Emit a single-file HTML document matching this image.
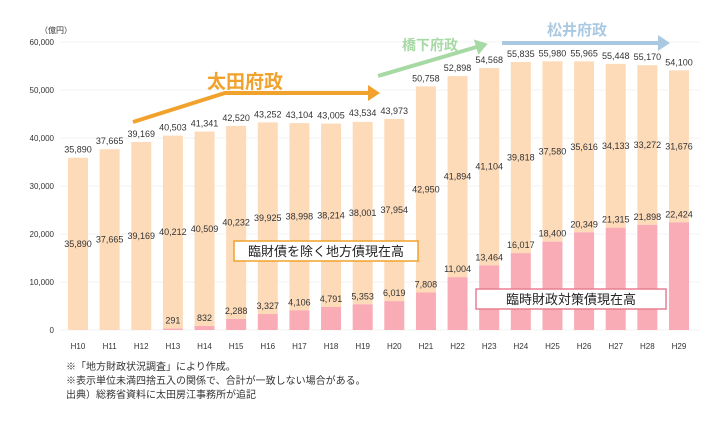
<!DOCTYPE html>
<html><head><meta charset="utf-8"><style>
body{margin:0;background:#fff;width:720px;height:426px;overflow:hidden;font-family:"Liberation Sans","Noto Sans CJK JP",sans-serif}
svg text{font-family:"Liberation Sans","Noto Sans CJK JP",sans-serif}
.note{position:absolute;left:66px;font-size:10px;color:#333;line-height:14px}
</style></head><body>
<svg id="chart" width="720" height="426" style="position:absolute;left:0;top:0"></svg>
<div class="note" style="top:361px">※「地方財政状況調査」により作成。<br>※表示単位未満四捨五入の関係で、合計が一致しない場合がある。<br>出典）総務省資料に太田房江事務所が追記</div>
<script>
const categories=["H10","H11","H12","H13","H14","H15","H16","H17","H18","H19","H20","H21","H22","H23","H24","H25","H26","H27","H28","H29"];
const otherDebt=[35890,37665,39169,40212,40509,40232,39925,38998,38214,38001,37954,42950,41894,41104,39818,37580,35616,34133,33272,31676];
const rinzaiDebt=[0,0,0,291,832,2288,3327,4106,4791,5353,6019,7808,11004,13464,16017,18400,20349,21315,21898,22424];
const totals=[35890,37665,39169,40503,41341,42520,43252,43104,43005,43534,43973,50758,52898,54568,55835,55980,55965,55448,55170,54100];
const yTicks=[0,10000,20000,30000,40000,50000,60000];
const NS="http://www.w3.org/2000/svg";
const svg=document.getElementById('chart');
const y=v=>330-v*0.0048;
const x=i=>78+i*31.63;
function mk(t,a,txt){const e=document.createElementNS(NS,t);for(const k in a)e.setAttribute(k,a[k]);if(txt!=null)e.textContent=txt;svg.appendChild(e);return e;}
const fmt=v=>v.toLocaleString('en-US');
yTicks.forEach(v=>{
 const g=mk('line',{x1:60,x2:700,y1:y(v),y2:y(v),stroke:'#f3f3f3','stroke-width':1});
 
 
 const t=mk('text',{x:54,y:y(v)+3,'text-anchor':'end','font-size':8,fill:'#333'},v===0?'0':fmt(v));
 
 
});
const u=mk('text',{x:40,y:33,'font-size':8,fill:'#333'},'（億円）');


const bw=20;
categories.forEach((c,i)=>{
 const cx=x(i),p=rinzaiDebt[i],o=otherDebt[i],tot=p+o;
 const b1=mk('rect',{x:cx-bw/2,y:y(tot),width:bw,height:y(p)-y(tot),fill:'#fddbb9'});
 
 
 if(p>0){const b2=mk('rect',{x:cx-bw/2,y:y(p),width:bw,height:330-y(p),fill:'#f9abb6'});
 
 
 const l=mk('text',{x:cx,y:y(p)-5,'text-anchor':'middle','font-size':9,fill:'#333'},fmt(p));
 
 }
 const lt=mk('text',{x:cx,y:y(totals[i])-5,'text-anchor':'middle','font-size':9,fill:'#333'},fmt(totals[i]));
 
 
 const lo=mk('text',{x:cx,y:(y(tot)+y(p))/2+3,'text-anchor':'middle','font-size':9,fill:'#333'},fmt(o));
 
 
 const xl=mk('text',{x:cx,y:349,'text-anchor':'middle','font-size':8,fill:'#333'},c);
 
 
});
// era arrows
function arrow(pts,color,name){
 const pl=mk('polyline',{points:pts.map(p=>p.join(',')).join(' '),fill:'none',stroke:color,'stroke-width':4});
 
 
 const a=pts[pts.length-2],b=pts[pts.length-1];const ang=Math.atan2(b[1]-a[1],b[0]-a[0]);
 const h=(dx,dy)=>[b[0]+dx*Math.cos(ang)-dy*Math.sin(ang),b[1]+dx*Math.sin(ang)+dy*Math.cos(ang)];
 const hd=mk('polygon',{points:[h(8,0),h(-4,-8),h(-4,8)].map(p=>p.join(',')).join(' '),fill:color});
 
 
}
arrow([[133,122],[225,93],[372,93]],'#f1a22c','ota-era-arrow');
arrow([[378,76],[480,46]],'#a6d9a3','hashimoto-era-arrow');
arrow([[502,43],[662,43]],'#a9c9e2','matsui-era-arrow');
let t=mk('text',{x:245,y:88,'text-anchor':'middle','font-size':19,'font-weight':'bold',fill:'#f1a22c'},'太田府政');

t=mk('text',{x:430,y:50,'text-anchor':'middle','font-size':14,'font-weight':'bold',fill:'#a6d9a3'},'橋下府政');

t=mk('text',{x:577,y:35,'text-anchor':'middle','font-size':15,'font-weight':'bold',fill:'#a9c9e2'},'松井府政');

// legend boxes
let r=mk('rect',{x:234,y:241,width:184,height:20,fill:'#fff',stroke:'#f1a22c','stroke-width':1.5});

t=mk('text',{x:326,y:256,'text-anchor':'middle','font-size':13,fill:'#222'},'臨財債を除く地方債現在高');

r=mk('rect',{x:476,y:289,width:190,height:20,fill:'#fff',stroke:'#e87f90','stroke-width':1.5});

t=mk('text',{x:571,y:304,'text-anchor':'middle','font-size':13,fill:'#222'},'臨時財政対策債現在高');

</script>
</body></html>
